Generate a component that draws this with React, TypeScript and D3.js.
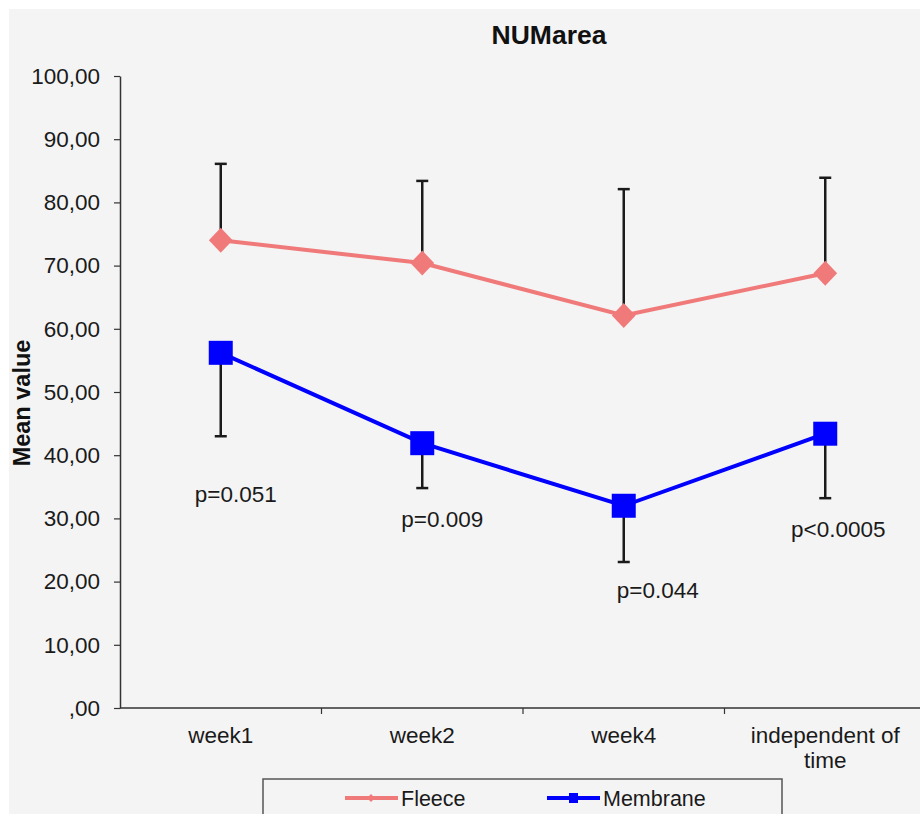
import React, { useEffect, useRef } from "react";
import * as d3 from "d3";

const categories = ["week1", "week2", "week4", "independent of time"];
const categoryLines = [["week1"], ["week2"], ["week4"], ["independent of", "time"]];

const fleeceMean = [74.0, 70.4, 62.1, 68.8];
const fleeceUpper = [86.1, 83.4, 82.1, 83.9];

const membraneMean = [56.2, 41.9, 32.0, 43.4];
const membraneLower = [43.0, 34.8, 23.1, 33.2];

const yTicks = [0, 10, 20, 30, 40, 50, 60, 70, 80, 90, 100];

// p-value notes, anchored in data units under each category
const pLabels = ["p=0.051", "p=0.009", "p=0.044", "p<0.0005"];
const pLabelValue = [32.6, 28.6, 17.4, 27.1];
const pLabelShift = [15, 20, 34, 13];

const FLEECE = "#f07a7a";
const MEMBRANE = "#0000ff";
const FONT = "'Liberation Sans', Arial, sans-serif";

const App = () => {
  const svgRef = useRef(null);

  useEffect(() => {
    const svg = d3.select(svgRef.current);
    svg.selectAll("*").remove();

    const width = 920, height = 814;
    const margin = { top: 76, right: -6, bottom: 106, left: 120 };

    svg.append("rect")
      .attr("x", 9).attr("y", 9)
      .attr("width", width - 9).attr("height", height - 9)
      .attr("fill", "#f4f4f4");

    const x = d3.scaleBand()
      .domain(categories)
      .range([margin.left, width - margin.right])
      .padding(0);

    const y = d3.scaleLinear()
      .domain([0, 100])
      .range([height - margin.bottom, margin.top]);

    const cx = (i) => x(categories[i]) + x.bandwidth() / 2;

    // title
    svg.append("text")
      .attr("x", 549).attr("y", 44)
      .attr("text-anchor", "middle")
      .attr("font-family", FONT)
      .attr("font-weight", "bold")
      .attr("font-size", 26.5)
      .attr("fill", "#111")
      .text("NUMarea");

    // y axis
    const yAxis = svg.append("g")
      .attr("transform", `translate(${margin.left},0)`)
      .call(d3.axisLeft(y)
        .tickValues(yTicks)
        .tickSize(6)
        .tickSizeOuter(0)
        .tickPadding(14)
        .tickFormat(d => d === 0 ? ",00" : d3.format(".2f")(d).replace(".", ",")));
    yAxis.select(".domain").attr("stroke", "#333").attr("stroke-width", 1.5);
    yAxis.selectAll(".tick line").attr("stroke", "#333").attr("stroke-width", 1.2);
    yAxis.selectAll(".tick text")
      .attr("font-family", FONT)
      .attr("font-size", 22.5)
      .attr("fill", "#1a1a1a");

    svg.append("text")
      .attr("transform", `translate(30,403) rotate(-90)`)
      .attr("text-anchor", "middle")
      .attr("font-family", FONT)
      .attr("font-weight", "bold")
      .attr("font-size", 23.5)
      .attr("fill", "#111")
      .text("Mean value");

    // x axis
    const y0 = y(0);
    svg.append("line")
      .attr("x1", margin.left).attr("x2", width)
      .attr("y1", y0).attr("y2", y0)
      .attr("stroke", "#333").attr("stroke-width", 1.5);

    svg.append("g")
      .selectAll("line")
      .data(categories.slice(1))
      .join("line")
      .attr("x1", d => x(d)).attr("x2", d => x(d))
      .attr("y1", y0).attr("y2", y0 + 6)
      .attr("stroke", "#333").attr("stroke-width", 1.2);

    svg.append("g")
      .selectAll("text")
      .data(categoryLines)
      .join("text")
      .attr("x", (d, i) => cx(i))
      .attr("y", y0 + 35)
      .attr("text-anchor", "middle")
      .attr("font-family", FONT)
      .attr("font-size", 22.5)
      .attr("fill", "#1a1a1a")
      .each(function (lines) {
        const t = d3.select(this);
        lines.forEach((ln, k) => {
          t.append("tspan")
            .attr("x", t.attr("x"))
            .attr("dy", k === 0 ? 0 : 25)
            .text(ln);
        });
      });

    // error bars
    const cap = 6;
    const drawBars = (from, to) => {
      const g = svg.append("g").attr("stroke", "#1a1a1a").attr("stroke-width", 2.5);
      from.forEach((v, i) => {
        g.append("line")
          .attr("x1", cx(i)).attr("x2", cx(i))
          .attr("y1", y(v)).attr("y2", y(to[i]));
        g.append("line")
          .attr("x1", cx(i) - cap).attr("x2", cx(i) + cap)
          .attr("y1", y(to[i])).attr("y2", y(to[i]));
      });
    };
    drawBars(fleeceMean, fleeceUpper);
    drawBars(membraneMean, membraneLower);

    const line = d3.line()
      .x((d, i) => cx(i))
      .y(d => y(d));

    svg.append("path")
      .datum(fleeceMean)
      .attr("d", line)
      .attr("fill", "none")
      .attr("stroke", FLEECE)
      .attr("stroke-width", 4);

    svg.append("path")
      .datum(membraneMean)
      .attr("d", line)
      .attr("fill", "none")
      .attr("stroke", MEMBRANE)
      .attr("stroke-width", 4);

    const diamond = d3.symbol().type(d3.symbolDiamond2).size(360);
    svg.append("g")
      .selectAll("path")
      .data(fleeceMean)
      .join("path")
      .attr("d", diamond)
      .attr("transform", (d, i) => `translate(${cx(i)},${y(d)}) scale(1,1.05)`)
      .attr("fill", FLEECE);

    const sq = 24;
    svg.append("g")
      .selectAll("rect")
      .data(membraneMean)
      .join("rect")
      .attr("x", (d, i) => cx(i) - sq / 2)
      .attr("y", d => y(d) - sq / 2)
      .attr("width", sq).attr("height", sq)
      .attr("fill", MEMBRANE);

    // p-values
    svg.append("g")
      .selectAll("text")
      .data(pLabels)
      .join("text")
      .attr("x", (d, i) => cx(i) + pLabelShift[i])
      .attr("y", (d, i) => y(pLabelValue[i]))
      .attr("text-anchor", "middle")
      .attr("font-family", FONT)
      .attr("font-size", 22.5)
      .attr("fill", "#1a1a1a")
      .text(d => d);

    // legend
    const lg = svg.append("g");
    lg.append("rect")
      .attr("x", 263).attr("y", 779)
      .attr("width", 519).attr("height", 60)
      .attr("fill", "#f4f4f4")
      .attr("stroke", "#555").attr("stroke-width", 1.5);

    const legendItems = [
      { name: "Fleece", color: FLEECE, x0: 345, shape: "diamond" },
      { name: "Membrane", color: MEMBRANE, x0: 547, shape: "square" },
    ];
    legendItems.forEach(it => {
      lg.append("line")
        .attr("x1", it.x0).attr("x2", it.x0 + 53)
        .attr("y1", 798).attr("y2", 798)
        .attr("stroke", it.color).attr("stroke-width", 4);
      if (it.shape === "diamond") {
        lg.append("path")
          .attr("d", d3.symbol().type(d3.symbolDiamond2).size(40)())
          .attr("transform", `translate(${it.x0 + 26},798)`)
          .attr("fill", it.color);
      } else {
        lg.append("rect")
          .attr("x", it.x0 + 22).attr("y", 793)
          .attr("width", 9).attr("height", 10)
          .attr("fill", it.color);
      }
      lg.append("text")
        .attr("x", it.x0 + 56).attr("y", 806)
        .attr("font-family", FONT)
        .attr("font-size", 21.5)
        .attr("fill", "#1a1a1a")
        .text(it.name);
    });
  }, []);

  return (
    <svg
      ref={svgRef}
      width={920}
      height={814}
      style={{ position: "absolute", left: 0, top: 0, display: "block" }}
    ></svg>
  );
};

export default App;
